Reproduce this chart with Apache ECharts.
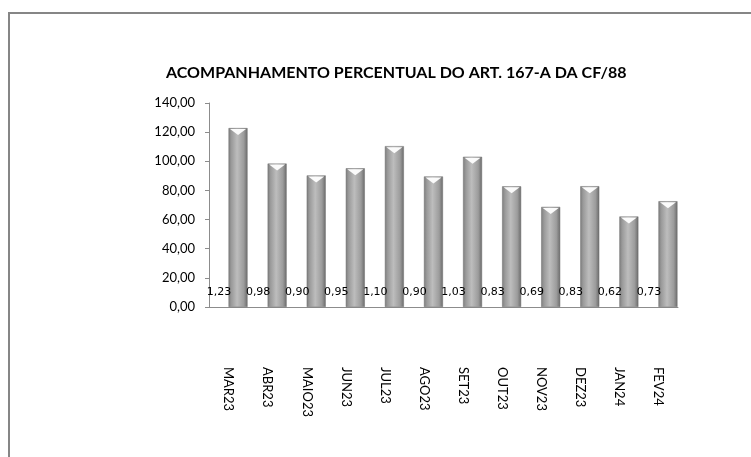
<!DOCTYPE html>
<html>
<head>
<meta charset="utf-8">
<script src="https://cdn.jsdelivr.net/npm/echarts@6/dist/echarts.min.js"></script>
<style>
  html, body { margin: 0; padding: 0; background: #fff; }
  #chart { width: 751px; height: 457px; }
</style>
</head>
<body>
<div id="chart"></div>
<script>
// meses
var meses = ['MAR23', 'ABR23', 'MAIO23', 'JUN23', 'JUL23', 'AGO23', 'SET23', 'OUT23', 'NOV23', 'DEZ23', 'JAN24', 'FEV24'];
// percentual (barras)
var percentual = [122.8, 98.4, 90.3, 95.2, 110.4, 89.6, 103.1, 82.8, 68.7, 82.9, 62.1, 72.6];
// indice (rotulos)
var indice = [1.23, 0.98, 0.90, 0.95, 1.10, 0.90, 1.03, 0.83, 0.69, 0.83, 0.62, 0.73];

var myChart = echarts.init(document.getElementById('chart'), null, {renderer: 'canvas'});

var barColor = new echarts.graphic.LinearGradient(0, 0, 1, 0, [
	{offset: 0, color: '#7d7d7d'},
	{offset: 0.15, color: '#9a9a9a'},
	{offset: 0.45, color: '#bdbdbd'},
	{offset: 0.8, color: '#9c9c9c'},
	{offset: 1, color: '#6a6a6a'}
]);

var option = {
	backgroundColor: '#fff',
	animation: false,
	title: {
		text: 'ACOMPANHAMENTO PERCENTUAL DO ART. 167-A DA CF/88',
		left: 161,
		top: 60,
		textStyle: {fontFamily: 'Lato', fontWeight: 'bold', fontSize: 16, color: '#000'}
	},
	graphic: [{
		type: 'rect',
		shape: {x: 9, y: 13, width: 800, height: 500},
		style: {fill: 'none', stroke: '#868686', lineWidth: 2},
		silent: true
	}],
	grid: {left: 209, right: 73, top: 103, bottom: 150},
	xAxis: {
		type: 'category',
		data: meses,
		axisLine: {lineStyle: {color: '#8c8c8c', width: 1}},
		axisTick: {show: false},
		axisLabel: {
			rotate: -90,
			margin: 60,
			fontFamily: 'Lato',
			fontSize: 13,
			color: '#000'
		}
	},
	yAxis: {
		type: 'value',
		min: 0,
		max: 140,
		interval: 20,
		axisLine: {show: true, lineStyle: {color: '#8c8c8c'}},
		axisTick: {show: true, length: 4, lineStyle: {color: '#8c8c8c'}},
		splitLine: {show: false},
		axisLabel: {
			margin: 14,
			fontFamily: 'Lato',
			fontSize: 13,
			color: '#000',
			formatter: function (v) { return v.toFixed(2).replace('.', ','); }
		}
	},
	series: [
	{
		name: 'Índice',
		type: 'bar',
		data: indice,
		barWidth: 19,
		barGap: '0%',
		itemStyle: {color: 'rgba(0,0,0,0)'},
		label: {
			show: true,
			position: 'top',
			distance: 8,
			fontFamily: 'DejaVu Sans',
			fontSize: 11,
			color: '#000',
			formatter: function (p) { return p.value.toFixed(2).replace('.', ','); }
		}
	},
	{
		name: 'Percentual',
		type: 'bar',
		data: percentual,
		barWidth: 19,
		barGap: '0%',
		itemStyle: {color: barColor, borderColor: '#6f6f6f', borderWidth: 0.5}
	},
	{
		name: 'Topo',
		type: 'pictorialBar',
		data: percentual,
		symbol: 'triangle',
		symbolRotate: 180,
		symbolSize: [16, 6],
		symbolPosition: 'end',
		symbolOffset: [9.5, 1],
		itemStyle: {color: '#fbfbfb'},
		z: 3
	}
	]
};

myChart.setOption(option);
</script>
</body>
</html>
